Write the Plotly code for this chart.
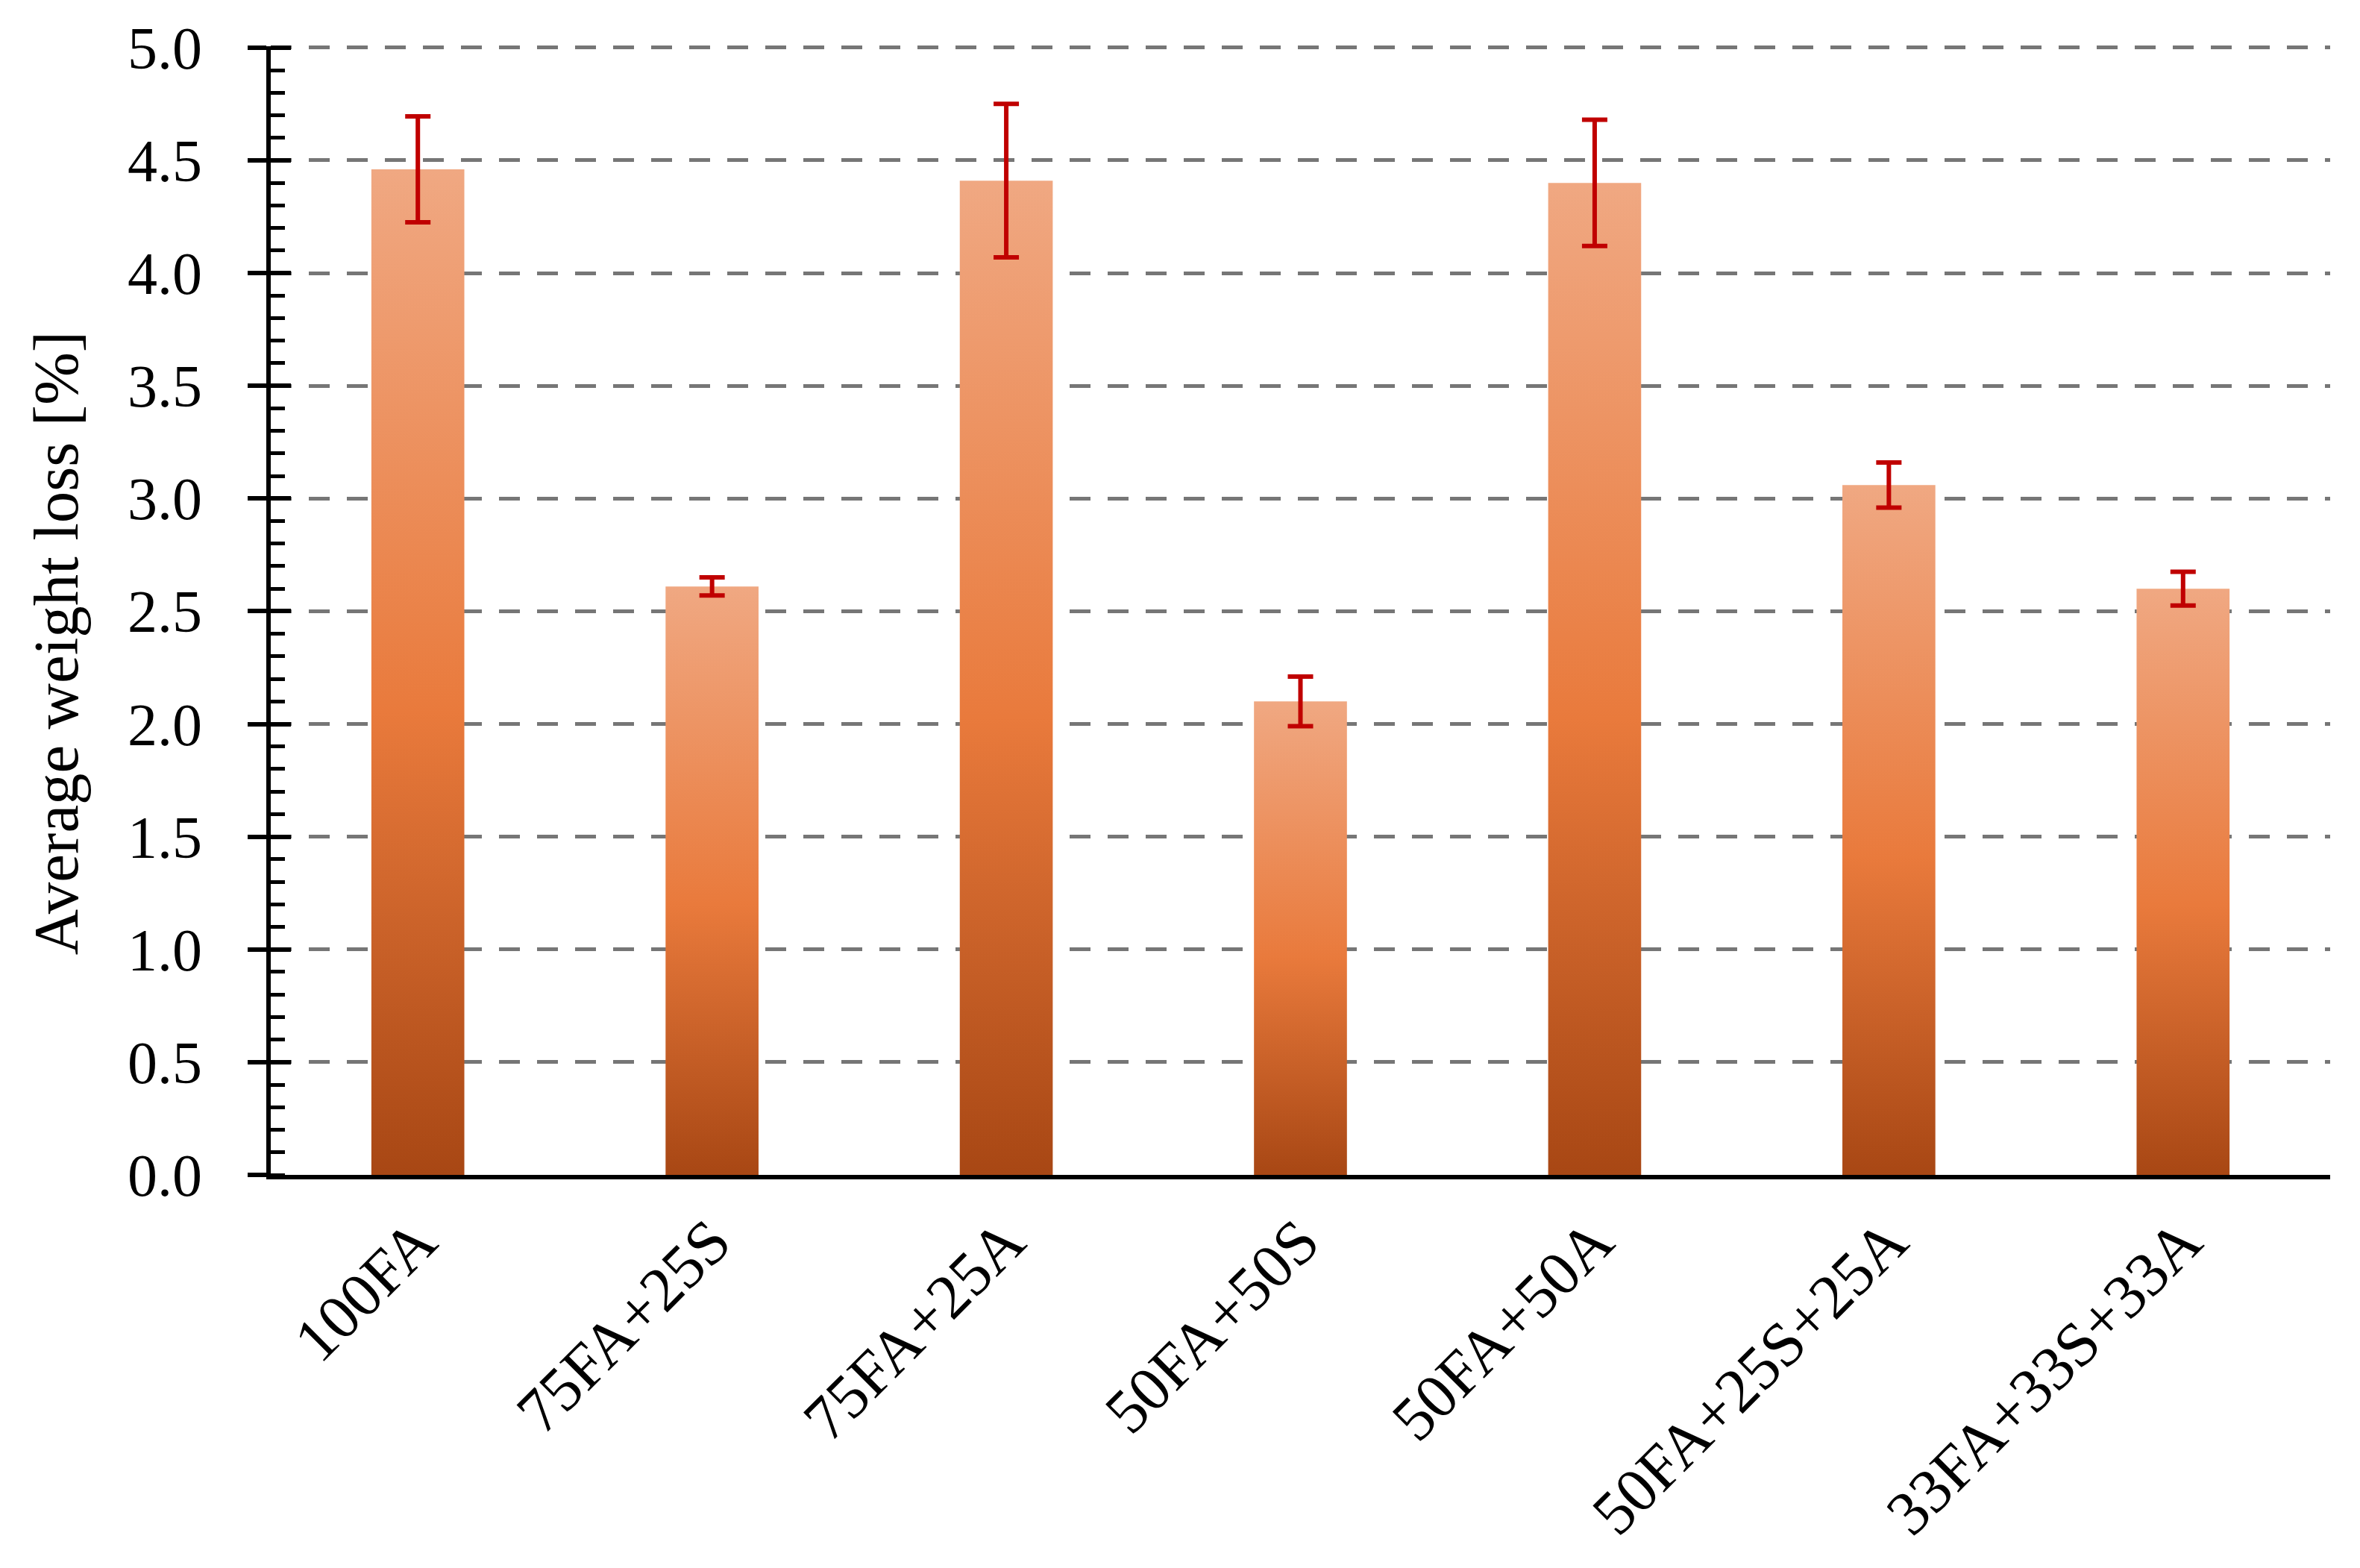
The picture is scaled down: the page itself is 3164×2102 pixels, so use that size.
import plotly.graph_objects as go

# data
mixes = ["100FA", "75FA+25S", "75FA+25A", "50FA+50S", "50FA+50A", "50FA+25S+25A", "33FA+33S+33A"]
weight_loss = [4.46, 2.61, 4.41, 2.10, 4.40, 3.06, 2.60]
weight_loss_err = [0.235, 0.04, 0.34, 0.11, 0.28, 0.10, 0.075]
y_ticks = [0.0, 0.5, 1.0, 1.5, 2.0, 2.5, 3.0, 3.5, 4.0, 4.5, 5.0]

FONT = "Liberation Serif, Times New Roman, serif"
half_w = 0.158  # half bar width in category units
Y_RANGE = [0, 5.006]  # tiny headroom so the 5.0 gridline is not clipped

# orange gradient, dark at base -> light at top
grad = [[0.0, "#A84714"], [0.46, "#E97A3C"], [1.0, "#F0A882"]]

fig = go.Figure()

for i, (name, v) in enumerate(zip(mixes, weight_loss)):
    fig.add_trace(go.Scatter(
        x=[i - half_w, i - half_w, i + half_w, i + half_w, i - half_w],
        y=[0, v, v, 0, 0],
        mode="lines",
        line=dict(width=0, color="rgba(0,0,0,0)"),
        fill="toself",
        fillgradient=dict(type="vertical", colorscale=grad),
        hoverinfo="skip",
        showlegend=False,
        name=name,
    ))

# error bars
fig.add_trace(go.Scatter(
    x=list(range(len(mixes))),
    y=weight_loss,
    mode="markers",
    marker=dict(size=1, opacity=0),
    error_y=dict(type="data", array=weight_loss_err, visible=True,
                 color="#C00000", thickness=6, width=17),
    showlegend=False,
    hoverinfo="skip",
))

# dummy trace so the overlay axis (inside half of the major ticks) renders
fig.add_trace(go.Scatter(x=[0], y=[0], yaxis="y2", mode="markers",
                         marker=dict(opacity=0), showlegend=False, hoverinfo="skip"))

# margins allow for the 8px body margin of the html page
fig.update_layout(
    width=3164, height=2102,
    margin=dict(l=355, r=48, t=54, b=535),
    plot_bgcolor="white", paper_bgcolor="white",
    font=dict(family=FONT, size=80, color="black"),
    xaxis=dict(
        range=[-0.5, 6.5], tickmode="array",
        tickvals=list(range(len(mixes))), ticktext=mixes,
        tickangle=-45, ticks="", showgrid=False, zeroline=False,
        showline=True, linecolor="black", linewidth=6,
        tickfont=dict(family=FONT, size=84, color="black"),
    ),
    yaxis=dict(
        range=Y_RANGE, tickmode="array", tickvals=y_ticks,
        ticktext=[f"{t:.1f}" for t in y_ticks],
        ticks="outside", ticklen=25, tickwidth=6, tickcolor="black",
        ticklabelstandoff=45,
        showline=True, linecolor="black", linewidth=6,
        zeroline=False,
        showgrid=True, gridcolor="#767676", gridwidth=5, griddash="28px,23px",
        minor=dict(ticks="inside", ticklen=19, tickwidth=5, tickcolor="black",
                   dtick=0.1, showgrid=False),
        tickfont=dict(family=FONT, size=80, color="black"),
    ),
    yaxis2=dict(
        overlaying="y", side="left", range=Y_RANGE, tickmode="array",
        tickvals=y_ticks, showticklabels=False,
        ticks="inside", ticklen=27, tickwidth=6, tickcolor="black",
        showgrid=False, zeroline=False, showline=False,
    ),
    annotations=[dict(
        text="Average weight loss [%]", xref="paper", yref="paper",
        x=-0.104, y=0.471, xanchor="center", yanchor="middle",
        textangle=-90, showarrow=False,
        font=dict(family=FONT, size=85, color="black"),
    )],
)

fig.write_html("out.html")
